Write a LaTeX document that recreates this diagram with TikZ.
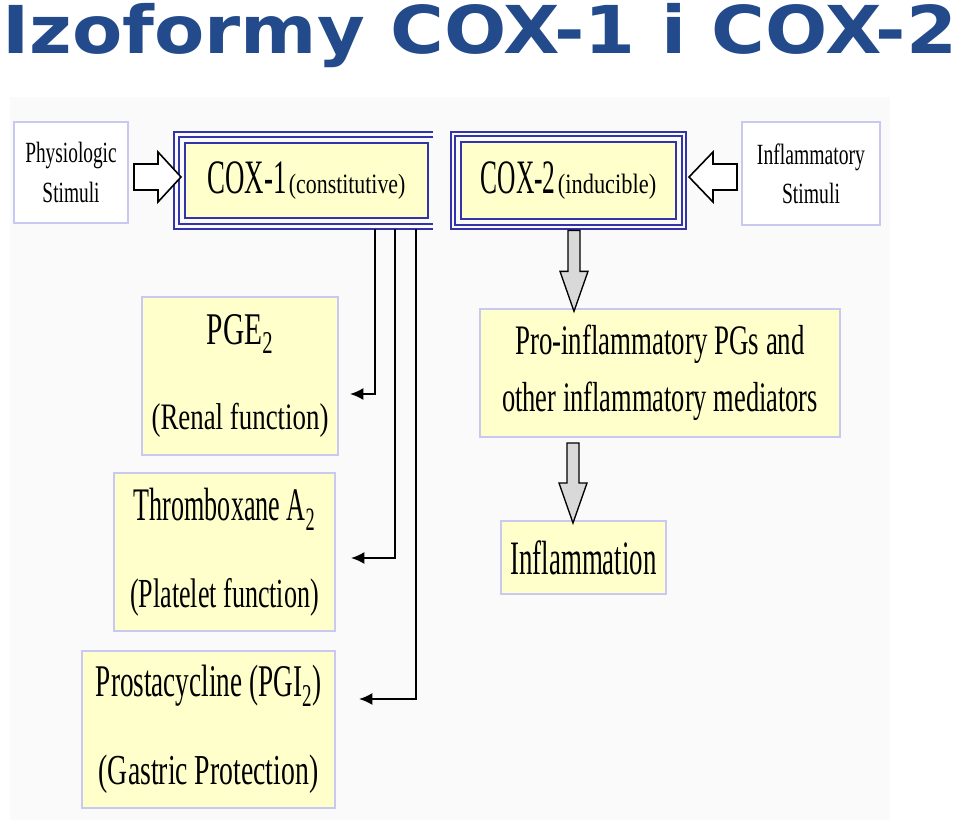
\documentclass[tikz,border=0pt]{standalone}
\usepackage{fontspec}
\setmainfont{Liberation Serif}
\newfontfamily\titlefont{DejaVu Sans}
\usepackage{graphicx}
\usetikzlibrary{calc,arrows.meta}

\definecolor{titleblue}{RGB}{35,75,140}
\definecolor{frameblue}{RGB}{51,51,170}
\definecolor{lavender}{RGB}{200,200,240}
\definecolor{paleyellow}{RGB}{255,255,204}
\definecolor{arrowgray}{RGB}{217,217,217}

\tikzset{
  note/.style={draw=lavender, line width=1.5pt, fill=paleyellow, inner sep=0pt, align=center},
  stim/.style={draw=lavender, line width=1.5pt, fill=white, inner sep=0pt, align=center},
  cox/.style={draw=frameblue, line width=2pt, fill=paleyellow, inner sep=0pt},
  frame/.style={draw=frameblue, line width=1.5pt},
  hollow/.style={draw=black, line width=1.2pt, fill=white, line join=miter},
  grayarrow/.style={draw=black, line width=1pt, fill=arrowgray},
  feed/.style={line width=1.4pt, -{Latex[length=10pt,width=9pt]}},
}

\begin{document}
\begin{tikzpicture}[x=0.75pt,y=0.75pt,yscale=-1,xscale=1]
  \useasboundingbox (0,0) rectangle (960,825);
  % background panel
  \fill[black!2] (10,97) rectangle (890,820);

  % Title
  \node[anchor=base west, inner sep=0pt, text=titleblue] (title) at (2,53)
    {\scalebox{1.11}[1]{\titlefont\bfseries\fontsize{49.5}{50}\selectfont Izoformy COX-1 i COX-2}};

  % Stimuli
  \node[stim, minimum width=85.5pt, minimum height=75.75pt, font=\fontsize{22}{30}\selectfont] (phys) at (71,172.5)
    {\scalebox{0.66}[1]{Physiologic}\\\scalebox{0.66}[1]{Stimuli}};
  \node[stim, minimum width=103.5pt, minimum height=77.25pt, font=\fontsize{22}{29}\selectfont] (inflst) at (811,173.5)
    {\scalebox{0.67}[1]{Inflammatory}\\\scalebox{0.67}[1]{Stimuli}};

  % COX boxes
  \node[cox, minimum width=182.25pt, minimum height=56.25pt] (cox1) at (306.5,180.5)
    {\scalebox{0.56}[1]{\fontsize{36}{36}\selectfont COX-1}\,\scalebox{0.78}[1]{\fontsize{21}{21}\selectfont (constitutive)}};
  \node[cox, minimum width=161.25pt, minimum height=57.75pt] (cox2) at (568.5,180.5)
    {\scalebox{0.53}[1]{\fontsize{36}{36}\selectfont COX-2}\,\scalebox{0.8}[1]{\fontsize{21}{21}\selectfont (inducible)}};

  % Frames
  \draw[frame] ($(cox1.north east)+(4,-10)$) -| ($(cox1.south west)+(-10,10)$) -- ($(cox1.south east)+(4,10)$);
  \draw[frame] ($(cox1.north east)+(4,-5)$) -| ($(cox1.south west)+(-5,5)$) -- ($(cox1.south east)+(4,5)$);
  \draw[frame] ($(cox2.north west)+(-9,-9)$) rectangle ($(cox2.south east)+(9,9)$);
  \draw[frame] ($(cox2.north west)+(-4.5,-4.5)$) rectangle ($(cox2.south east)+(4.5,4.5)$);

  % Products of COX-1
  \node[note, minimum width=147pt, minimum height=118.5pt, font=\fontsize{28}{64}\selectfont] (pge) at (240,376)
    {\scalebox{0.65}[1]{\fontsize{34}{34}\selectfont PGE\textsubscript{2}}\\\scalebox{0.72}[1]{(Renal function)}};
  \node[note, minimum width=165.75pt, minimum height=118.5pt, font=\fontsize{31}{65}\selectfont] (thromb) at (224.5,552)
    {\scalebox{0.56}[1]{\fontsize{35}{35}\selectfont Thromboxane A\textsubscript{2}}\\\scalebox{0.63}[1]{(Platelet function)}};
  \node[note, minimum width=189.75pt, minimum height=117.75pt, font=\fontsize{32}{66}\selectfont] (prosta) at (208.5,729.5)
    {\scalebox{0.6}[1]{\fontsize{34}{34}\selectfont Prostacycline (PGI\textsubscript{2})}\\\scalebox{0.65}[1]{(Gastric Protection)}};

  % Products of COX-2
  \node[note, minimum width=270pt, minimum height=96pt, font=\fontsize{31.5}{43}\selectfont] (proinfl) at (660,373)
    {\scalebox{0.64}[1]{Pro-inflammatory PGs and}\\\scalebox{0.63}[1]{other inflammatory mediators}};
  \node[note, minimum width=123.75pt, minimum height=54.75pt] (inflam) at (583.5,557.5)
    {\scalebox{0.56}[1]{\fontsize{36}{36}\selectfont Inflammation}};

  % Hollow arrows
  \draw[hollow] ($(phys.east)+(5,-8.5)$) -- ++(24,0) -- ++(0,-12) -- ++(23,25) -- ++(-23,25) -- ++(0,-12) -- ++(-24,0) -- cycle;
  \draw[hollow] ($(inflst.west)+(-4,-9.5)$) -- ++(-24,0) -- ++(0,-12) -- ++(-24,25) -- ++(24,25) -- ++(0,-12) -- ++(24,0) -- cycle;

  % Gray arrows
  \draw[grayarrow] ($(cox2.south)+(-0.5,10)$) -- ++(0,41) -- ++(-8,0) -- ++(14,40) -- ++(14,-40) -- ++(-8,0) -- ++(0,-41) -- cycle;
  \draw[grayarrow] ($(proinfl.south west)+(88,5)$) -- ++(0,40) -- ++(-8,0) -- ++(14,40) -- ++(14,-40) -- ++(-8,0) -- ++(0,-40) -- cycle;

  % Feeds from COX-1
  \draw[feed] ($(cox1.south west)+(191,10)$) |- ($(pge.east)+(11,18)$);
  \draw[feed] ($(cox1.south west)+(211,10)$) |- ($(thromb.east)+(15,6)$);
  \draw[feed] ($(cox1.south west)+(232,10)$) |- ($(prosta.east)+(23,-30.5)$);

\end{tikzpicture}
\end{document}
